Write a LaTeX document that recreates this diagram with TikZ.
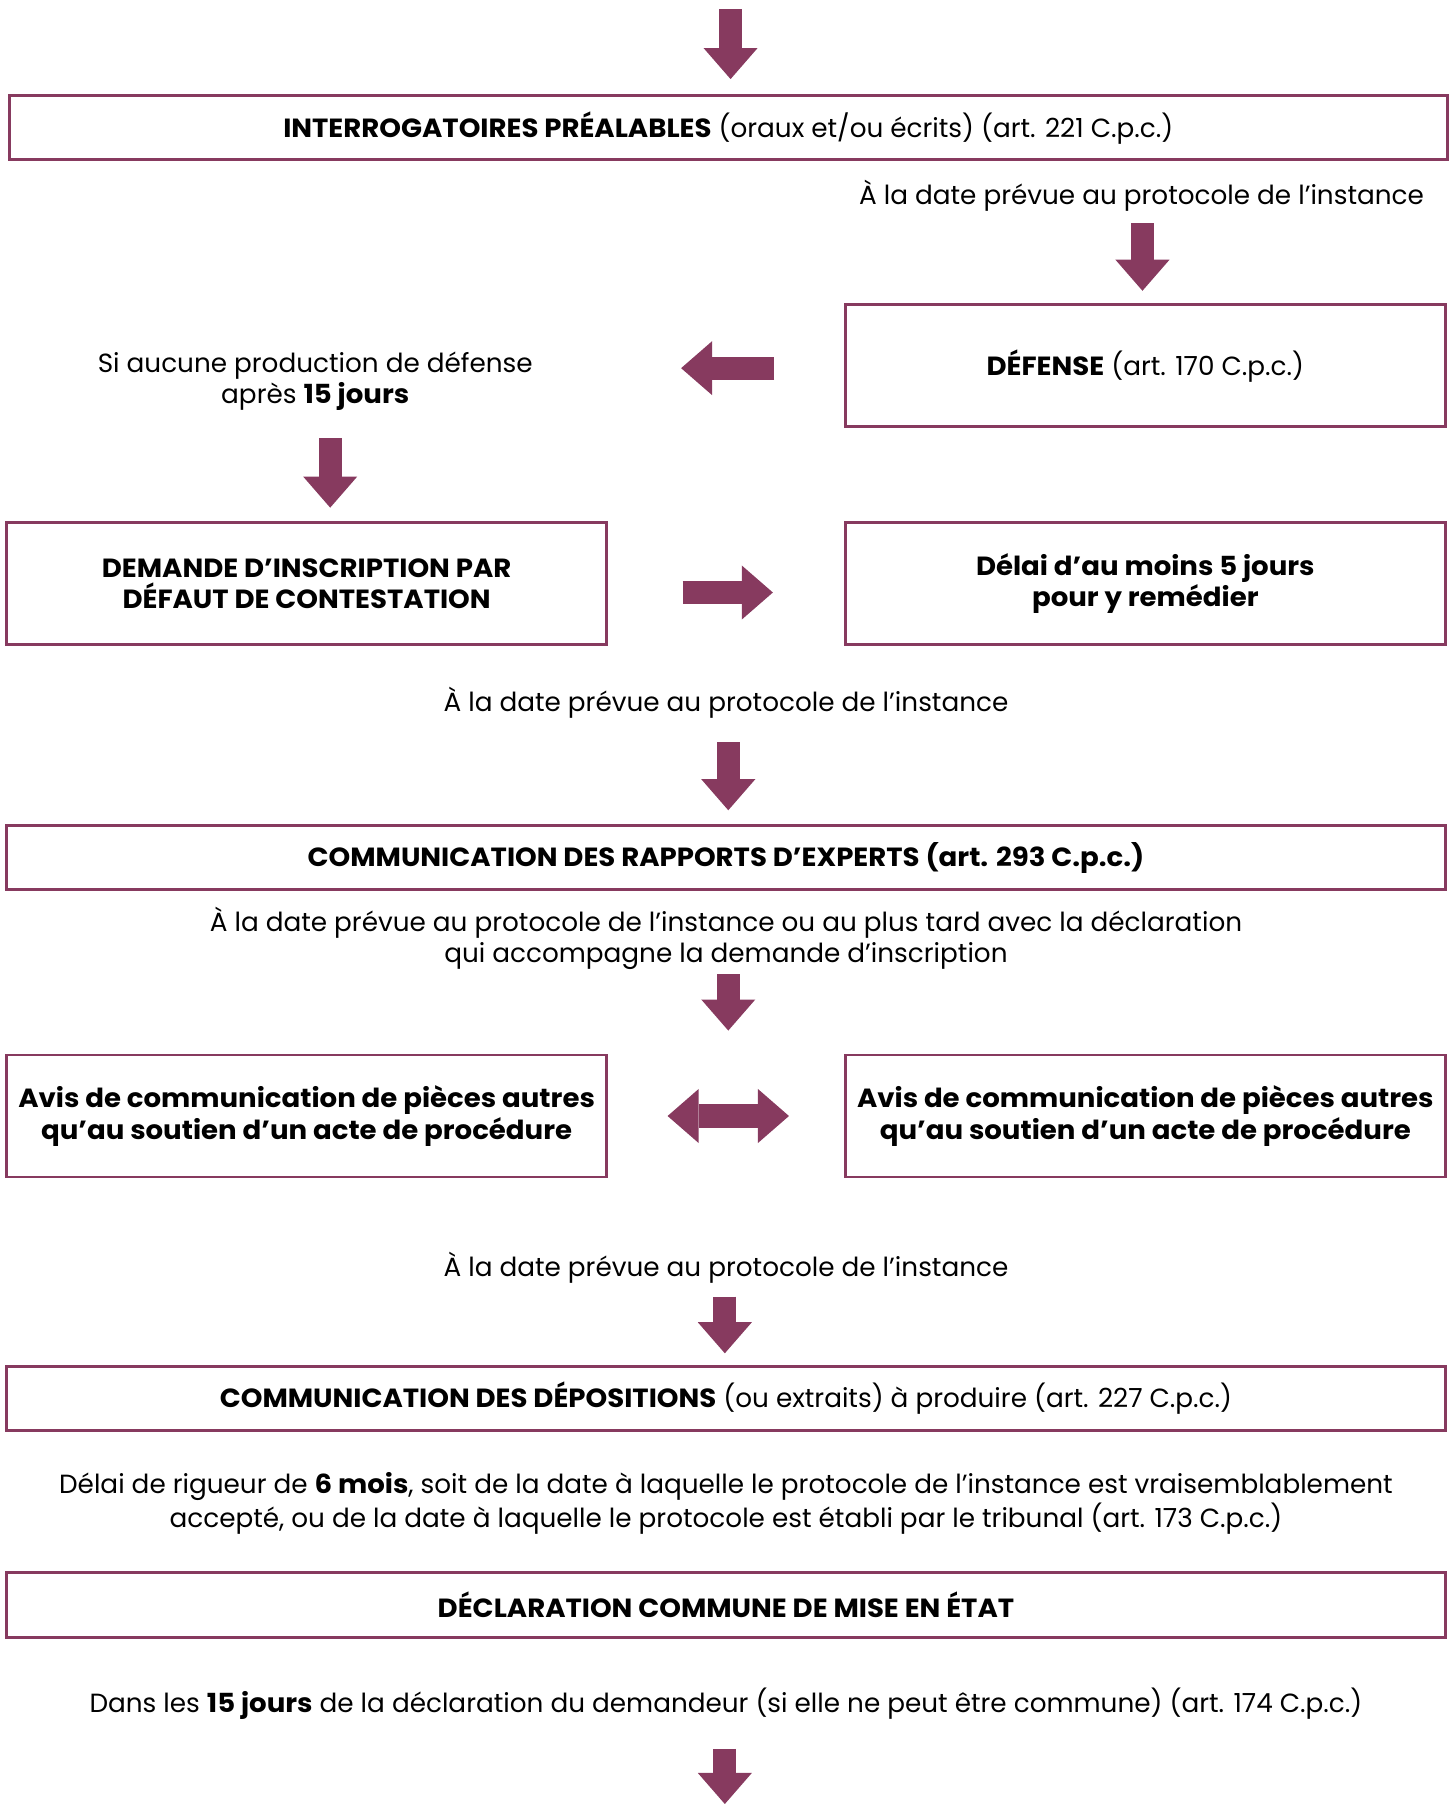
\documentclass[tikz,border=0pt]{standalone}
\usepackage{fontspec}
\setmainfont{Poppins}[BoldFeatures={FakeStretch=1.05}]
\usetikzlibrary{arrows.meta}
\definecolor{prune}{RGB}{135,58,95}

\tikzset{
  texte/.style={font=\fontsize{13}{15.4}\selectfont},
  gras/.style={font=\fontsize{13}{15.4}\selectfont\bfseries},
  boite/.style={draw=prune, line width=0.05cm, align=center, inner sep=0pt,
    minimum height=1.12cm},
  haute/.style={boite, minimum width=10.42cm, minimum height=2.12cm},
  note/.style={align=center, inner sep=0pt},
  fleche/.style={prune, line width=0.4cm, -{Triangle[width=0.94cm, length=0.54cm, line width=0pt]}},
  dfleche/.style={prune, line width=0.4cm,
    {Triangle[width=0.94cm, length=0.54cm, line width=0pt]}-{Triangle[width=0.94cm, length=0.54cm, line width=0pt]}}
}

\begin{document}
\begin{tikzpicture}[texte]

\useasboundingbox (0,0) rectangle (25.26,-31.36);

% les boites et les textes
\node[boite, minimum width=25cm] (interro) at (12.66,-2.22)
  {\textbf{INTERROGATOIRES PRÉALABLES} (oraux et/ou écrits) (art. 221 C.p.c.)};
\node[note, anchor=east] (date1) at (24.76,-3.40)
  {À la date prévue au protocole de l’instance};
\node[haute] (defense) at (19.91,-6.36) {\textbf{DÉFENSE} (art. 170 C.p.c.)};
\node[note] (aucune) at (5.48,-6.62)
  {Si aucune production de défense\\après \textbf{15 jours}};
\node[haute, gras] (demande) at (5.33,-10.15)
  {DEMANDE D’INSCRIPTION PAR\\DÉFAUT DE CONTESTATION};
\node[haute, gras] (delai) at (19.91,-10.15)
  {Délai d’au moins 5 jours\\pour y remédier};
\node[note] (date2) at (12.62,-12.22) {À la date prévue au protocole de l’instance};
\node[boite, minimum width=25cm, gras] (rapports) at (12.62,-14.91)
  {COMMUNICATION DES RAPPORTS D’EXPERTS (art. 293 C.p.c.)};
\node[note] (plustard) at (12.62,-16.31)
  {À la date prévue au protocole de l’instance ou au plus tard avec la déclaration\\qui accompagne la demande d’inscription};
\node[haute, gras] (avisg) at (5.33,-19.40)
  {Avis de communication de pièces autres\\qu’au soutien d’un acte de procédure};
\node[haute, gras] (avisd) at (19.91,-19.40)
  {Avis de communication de pièces autres\\qu’au soutien d’un acte de procédure};
\node[note] (date3) at (12.62,-22.04) {À la date prévue au protocole de l’instance};
\node[boite, minimum width=25cm] (depositions) at (12.62,-24.31)
  {\textbf{COMMUNICATION DES DÉPOSITIONS} (ou extraits) à produire (art. 227 C.p.c.)};
\node[note] (rigueur) at (12.62,-26.13)
  {Délai de rigueur de \textbf{6 mois}, soit de la date à laquelle le protocole de l’instance est vraisemblablement\\accepté, ou de la date à laquelle le protocole est établi par le tribunal (art. 173 C.p.c.)};
\node[boite, minimum width=25cm, gras] (declaration) at (12.62,-27.90)
  {DÉCLARATION COMMUNE DE MISE EN ÉTAT};
\node[note] (quinze) at (12.62,-29.62)
  {Dans les \textbf{15 jours} de la déclaration du demandeur (si elle ne peut être commune) (art. 174 C.p.c.)};

% les fleches
\coordinate (f1) at (12.70,-0.16);
\coordinate (f2) at (19.86,-3.88);
\coordinate (gauche) at (11.84,-6.40);
\coordinate (f3) at (5.74,-7.62);
\coordinate (f4) at (12.66,-12.90);
\coordinate (f5) at (12.66,-16.94);
\coordinate (f6) at (12.60,-22.54);
\coordinate (f7) at (12.60,-30.40);
\coordinate (fin) at (12.60,-31.36);

\draw[fleche, shorten >=0.26cm] (f1) -- (f1 |- interro.north);
\draw[fleche, shorten >=0.22cm] (f2) -- (f2 |- defense.north);
\draw[fleche, shorten <=1.22cm] (defense.west |- gauche) -- (gauche);
\draw[fleche, shorten >=0.24cm] (f3) -- (f3 |- demande.north);
\draw[fleche, shorten <=1.30cm, shorten >=1.24cm]
  ([yshift=-0.15cm]demande.east) -- ([yshift=-0.15cm]delai.west);
\draw[fleche, shorten >=0.24cm] (f4) -- (f4 |- rapports.north);
\draw[fleche, shorten >=0.40cm] (f5) -- (f5 |- avisg.north);
\draw[dfleche, shorten <=1.04cm, shorten >=0.96cm] (avisg.east) -- (avisd.west);
\draw[fleche, shorten >=0.20cm] (f6) -- (f6 |- depositions.north);
\draw[fleche] (f7) -- (fin);

\end{tikzpicture}
\end{document}
